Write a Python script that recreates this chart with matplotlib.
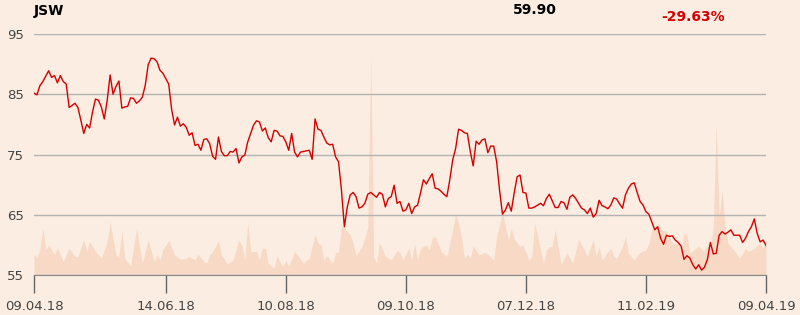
'''
JSW share price over one year with traded volume shaded underneath
'''
import matplotlib
matplotlib.use('Agg')
import matplotlib.pyplot as plt

# price, by trading-day index (0 = 09.04.18, 250 = 09.04.19)
price_day = [0, 1, 2, 3, 5, 6, 7, 8, 9, 10, 11, 12, 14, 15, 16, 17, 18, 19, 20, 21,
             22, 23, 24, 25, 26, 27, 28, 29, 30, 31, 32, 33, 34, 35, 36, 37, 38, 39, 40, 41,
             42, 43, 44, 45, 46, 47, 48, 49, 50, 51, 52, 53, 54, 55, 56, 57, 58, 59, 60, 61,
             62, 63, 64, 65, 66, 67, 68, 69, 70, 71, 72, 73, 74, 75, 76, 77, 78, 79, 80, 81,
             82, 83, 84, 85, 86, 87, 88, 89, 90, 91, 92, 93, 94, 95, 96, 97, 98, 99, 100, 101,
             102, 103, 104, 105, 106, 107, 108, 109, 110, 111, 112, 113, 114, 115, 116, 117, 118, 119, 120, 121,
             122, 123, 124, 125, 126, 127, 128, 129, 130, 131, 132, 133, 134, 135, 136, 137, 138, 139, 140, 141,
             142, 143, 144, 145, 146, 147, 148, 149, 150, 151, 152, 153, 154, 155, 156, 157, 158, 159, 160, 161,
             162, 163, 164, 165, 166, 167, 168, 169, 170, 171, 173, 174, 175, 176, 177, 178, 179, 180, 181, 182,
             183, 184, 185, 186, 187, 188, 189, 190, 191, 192, 193, 194, 195, 196, 197, 198, 199, 200, 201, 202,
             203, 204, 205, 206, 207, 208, 209, 210, 211, 212, 213, 214, 215, 216, 217, 218, 219, 220, 221, 222,
             223, 224, 225, 226, 227, 228, 229, 230, 231, 232, 233, 234, 235, 236, 237, 238, 239, 240, 241, 242,
             243, 244, 245, 246, 247, 248, 249, 250]
price = [85.2, 84.9, 86.4, 87.1, 88.9, 87.8, 88.1, 86.9, 88.1, 87.1, 86.7, 82.8, 83.5, 82.8, 80.7, 78.5, 80.0, 79.4, 82.1, 84.2,
         84.0, 82.9, 80.9, 84.0, 88.2, 85.0, 86.3, 87.2, 82.7, 82.9, 83.0, 84.4, 84.3, 83.5, 83.9, 84.5, 86.5, 89.9, 91.0, 90.9,
         90.4, 89.0, 88.5, 87.6, 86.7, 82.5, 79.9, 81.2, 79.7, 80.1, 79.5, 78.2, 78.6, 76.5, 76.7, 75.7, 77.5, 77.6, 76.8, 74.7,
         74.2, 77.9, 75.5, 74.8, 74.8, 75.5, 75.4, 76.0, 73.6, 74.6, 74.9, 77.1, 78.5, 79.9, 80.6, 80.4, 78.9, 79.4, 77.8, 77.1,
         79.0, 78.9, 78.1, 78.0, 77.1, 75.7, 78.5, 75.4, 74.6, 75.4, 75.5, 75.6, 75.7, 74.2, 80.9, 79.2, 79.0, 77.9, 76.9, 76.6,
         76.7, 74.6, 73.8, 69.1, 63.0, 66.3, 68.3, 68.7, 68.0, 66.1, 66.3, 66.9, 68.4, 68.7, 68.3, 67.9, 68.7, 68.4, 66.3, 67.7,
         68.0, 69.9, 66.9, 67.2, 65.6, 65.8, 66.9, 65.2, 66.3, 66.6, 68.6, 70.8, 70.1, 71.0, 71.8, 69.4, 69.3, 68.9, 68.4, 68.0,
         70.8, 74.1, 76.0, 79.2, 79.0, 78.6, 78.5, 75.5, 73.1, 77.2, 76.7, 77.4, 77.6, 75.3, 76.4, 76.4, 73.8, 69.1, 65.1, 65.8,
         67.0, 65.6, 68.6, 71.3, 71.6, 68.7, 68.6, 66.1, 66.1, 66.3, 66.9, 66.5, 67.7, 68.4, 67.3, 66.2, 66.2, 67.2, 67.0, 65.9,
         67.9, 68.3, 67.7, 66.9, 66.1, 65.8, 65.2, 66.1, 64.6, 65.2, 67.4, 66.5, 66.3, 66.0, 66.6, 67.8, 67.6, 66.8, 66.1, 68.3,
         69.4, 70.1, 70.3, 68.7, 67.2, 66.6, 65.5, 65.1, 63.8, 62.5, 63.0, 61.1, 60.1, 61.6, 61.4, 61.5, 60.8, 60.4, 59.8, 57.6,
         58.2, 57.8, 56.7, 56.0, 56.7, 55.8, 56.3, 57.6, 60.4, 58.5, 58.6, 61.6, 62.2, 61.8, 62.1, 62.5, 61.6, 61.6, 61.6, 60.4,
         61.1, 62.2, 63.0, 64.3, 61.9, 60.5, 60.8, 59.9]

# volume in thousand shares, by trading-day index
vol_day = [0, 1, 2, 3, 4, 5, 7, 8, 10, 12, 14, 15, 17, 18, 19, 21, 23, 25, 26, 28,
           29, 30, 31, 33, 35, 37, 39, 41, 42, 43, 44, 46, 48, 50, 52, 53, 55, 56, 58, 59,
           60, 61, 63, 64, 66, 68, 70, 71, 72, 73, 74, 76, 77, 78, 79, 80, 82, 83, 85, 86,
           87, 89, 90, 92, 93, 94, 96, 97, 98, 99, 100, 102, 103, 104, 105, 106, 108, 109, 110, 112,
           114, 115, 116, 117, 118, 120, 122, 124, 125, 126, 128, 129, 130, 131, 132, 134, 135, 136, 137, 139,
           141, 143, 144, 146, 147, 148, 149, 150, 152, 154, 156, 157, 158, 160, 161, 162, 163, 164, 166, 167,
           169, 170, 171, 172, 174, 175, 176, 177, 178, 179, 180, 182, 184, 186, 188, 189, 191, 192, 193, 194,
           196, 197, 198, 199, 201, 202, 203, 205, 206, 207, 209, 210, 211, 213, 214, 216, 218, 220, 221, 222,
           223, 224, 226, 227, 229, 230, 231, 232, 233, 234, 235, 236, 237, 239, 241, 242, 243, 244, 246, 248,
           249, 250]
volume = [104, 89, 125, 233, 125, 150, 100, 138, 67, 133, 92, 92, 175, 117, 167, 117, 83, 167, 262, 100,
          92, 217, 83, 45, 228, 58, 175, 67, 100, 75, 125, 172, 100, 78, 83, 92, 75, 103, 67, 58,
          100, 117, 170, 100, 55, 75, 175, 145, 75, 258, 117, 117, 75, 133, 133, 58, 33, 95, 38, 75,
          42, 117, 100, 58, 75, 83, 200, 158, 150, 75, 95, 58, 108, 117, 242, 233, 200, 158, 92, 142,
          233, 1092, 92, 58, 162, 92, 75, 122, 112, 75, 133, 75, 158, 75, 133, 150, 125, 183, 195, 117,
          92, 225, 308, 192, 83, 105, 83, 145, 100, 112, 92, 75, 192, 308, 242, 175, 233, 178, 142, 150,
          75, 92, 258, 192, 58, 125, 142, 142, 225, 142, 50, 112, 58, 178, 125, 92, 175, 92, 142, 75,
          117, 133, 92, 83, 142, 192, 108, 75, 100, 112, 125, 158, 225, 258, 225, 217, 158, 158, 125, 208,
          200, 108, 133, 142, 117, 158, 125, 242, 750, 292, 420, 242, 158, 125, 83, 105, 133, 117, 133, 158,
          133, 175]

tick_day = [0, 45, 86, 127, 168, 209, 250]
tick_labels = ['09.04.18', '14.06.18', '10.08.18', '09.10.18', '07.12.18', '11.02.19', '09.04.19']

bg = '#fbede1'
fig = plt.figure(figsize=(8, 3.15), dpi=100, facecolor=bg)
ax = fig.add_axes([34/800, 40/315, 732/800, 241/315])
ax2 = ax.twinx()

# volume behind, price on top
ax.set_zorder(2)
ax.patch.set_visible(False)
ax2.set_zorder(1)
ax2.patch.set_facecolor(bg)

ax2.fill_between(vol_day, 0, volume, color='#f7d9c5', lw=0)
ax2.set_ylim(0, 1200)
ax2.set_yticks([])
for s in ax2.spines.values():
    s.set_visible(False)

ax.plot(price_day, price, color='#d40000', lw=1.0)
ax.set_xlim(0, 250)
ax.set_ylim(55, 95)
ax.set_yticks([55, 65, 75, 85, 95])
ax.yaxis.grid(True, color='#b3b3b3', lw=1.0)
ax.set_xticks(tick_day)
ax.set_xticklabels(tick_labels)
ax.tick_params(axis='y', length=0, pad=7, labelsize=9.5, labelcolor='#444444')
ax.tick_params(axis='x', length=13, width=1, color='#666666', pad=5, labelsize=9.5, labelcolor='#444444')
for k in ['left', 'right', 'top']:
    ax.spines[k].set_visible(False)
ax.spines['bottom'].set_color('#888888')

fig.text(34/800, 1 - 11/315, 'JSW', fontsize=10, fontweight='bold', va='center', ha='left')
fig.text(535/800, 1 - 10/315, '59.90', fontsize=10, fontweight='bold', va='center', ha='center')
fig.text(693/800, 1 - 17/315, '-29.63%', fontsize=10, fontweight='bold', va='center', ha='center', color='#d40000')

fig.savefig('out.png', dpi=100, facecolor=bg)
